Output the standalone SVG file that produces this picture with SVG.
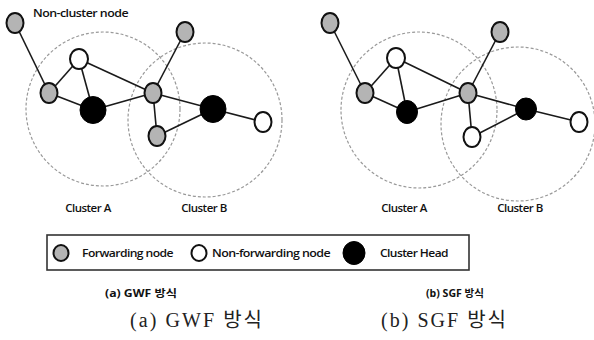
<svg xmlns="http://www.w3.org/2000/svg" width="594" height="340" viewBox="0 0 594 340">
<style>
.cl{fill:none;stroke:#999;stroke-width:1.2;stroke-dasharray:3 2}
.e{stroke:#1a1a1a;stroke-width:1.6;fill:none}
.g{fill:#b4b4b4;stroke:#111;stroke-width:2}
.w{fill:#fff;stroke:#111;stroke-width:2}
.b{fill:#000;stroke:#000;stroke-width:1}
.t{font-family:"Open Sans","Liberation Sans",sans-serif;font-weight:600;fill:#111;letter-spacing:-0.5px}
.s{font-family:"Open Sans","Noto Sans CJK KR",sans-serif;font-weight:700;fill:#111;font-size:10px}
.L{font-family:"Liberation Serif","Noto Sans CJK KR",serif;fill:#222;font-size:20px}
</style>
<rect width="594" height="340" fill="#fff"/>

<g id="clusters">
<circle class="cl" cx="103" cy="109" r="77"/>
<circle class="cl" cx="205" cy="120" r="77"/>
<circle class="cl" cx="419" cy="110" r="78"/>
<circle class="cl" cx="518" cy="124" r="77"/>
</g>

<g id="connectors">
<line class="e" x1="15" y1="23" x2="49" y2="93"/>
<line class="e" x1="49" y1="93" x2="79" y2="59"/>
<line class="e" x1="49" y1="93" x2="93" y2="110"/>
<line class="e" x1="79" y1="59" x2="93" y2="110"/>
<line class="e" x1="79" y1="59" x2="153" y2="93"/>
<line class="e" x1="93" y1="110" x2="153" y2="93"/>
<line class="e" x1="185" y1="32" x2="153" y2="93"/>
<line class="e" x1="153" y1="93" x2="213" y2="109"/>
<line class="e" x1="153" y1="93" x2="157" y2="136"/>
<line class="e" x1="157" y1="136" x2="213" y2="109"/>
<line class="e" x1="213" y1="109" x2="263" y2="122"/>

<line class="e" x1="330" y1="23" x2="365" y2="93"/>
<line class="e" x1="365" y1="93" x2="396" y2="58"/>
<line class="e" x1="365" y1="93" x2="407" y2="112"/>
<line class="e" x1="396" y1="58" x2="407" y2="112"/>
<line class="e" x1="396" y1="58" x2="468" y2="93"/>
<line class="e" x1="407" y1="112" x2="468" y2="93"/>
<line class="e" x1="500" y1="32" x2="468" y2="93"/>
<line class="e" x1="468" y1="93" x2="526" y2="109"/>
<line class="e" x1="468" y1="93" x2="472" y2="137"/>
<line class="e" x1="472" y1="137" x2="526" y2="109"/>
<line class="e" x1="526" y1="109" x2="579" y2="122"/>
</g>

<g id="a-noncluster"><ellipse class="g" cx="15" cy="23" rx="8.5" ry="10"/></g>
<g id="a-top"><ellipse class="w" cx="79" cy="59" rx="9" ry="10"/></g>
<g id="a-left"><ellipse class="g" cx="49" cy="93" rx="8.5" ry="10"/></g>
<g id="a-headA"><ellipse class="b" cx="93" cy="110" rx="13" ry="13.5"/></g>
<g id="a-mid"><ellipse class="g" cx="153" cy="93" rx="8.5" ry="10"/></g>
<g id="a-topright"><ellipse class="g" cx="185" cy="32" rx="8.5" ry="10"/></g>
<g id="a-bottom"><ellipse class="g" cx="157" cy="136" rx="8.5" ry="10"/></g>
<g id="a-headB"><ellipse class="b" cx="213" cy="109" rx="13" ry="13.5"/></g>
<g id="a-right"><ellipse class="w" cx="263" cy="122" rx="8.5" ry="10"/></g>

<g id="b-noncluster"><ellipse class="g" cx="330" cy="23" rx="8.5" ry="10"/></g>
<g id="b-top"><ellipse class="w" cx="396" cy="58" rx="9" ry="10"/></g>
<g id="b-left"><ellipse class="g" cx="365" cy="93" rx="8.5" ry="10"/></g>
<g id="b-headA"><ellipse class="b" cx="407" cy="112" rx="10.5" ry="11.5"/></g>
<g id="b-mid"><ellipse class="g" cx="468" cy="93" rx="8.5" ry="10"/></g>
<g id="b-topright"><ellipse class="g" cx="500" cy="32" rx="8.5" ry="10"/></g>
<g id="b-bottom"><ellipse class="w" cx="472" cy="137" rx="8.5" ry="10"/></g>
<g id="b-headB"><ellipse class="b" cx="526" cy="109" rx="10.5" ry="11"/></g>
<g id="b-right"><ellipse class="w" cx="579" cy="122" rx="8.5" ry="10"/></g>

<g id="labels">
<text class="t" x="33" y="17" font-size="11.5" textLength="95" lengthAdjust="spacingAndGlyphs">Non-cluster node</text>
<text class="t" x="88" y="212" font-size="11.5" text-anchor="middle">Cluster A</text>
<text class="t" x="204" y="212" font-size="11.5" text-anchor="middle">Cluster B</text>
<text class="t" x="404" y="212" font-size="11.5" text-anchor="middle">Cluster A</text>
<text class="t" x="520" y="212" font-size="11.5" text-anchor="middle">Cluster B</text>
</g>

<g id="legend">
<rect x="47" y="235" width="422" height="35" fill="#fff" stroke="#333" stroke-width="1.6"/>
<ellipse class="g" cx="61" cy="253" rx="7.5" ry="8"/>
<text class="t" x="82" y="256.5" font-size="10.5" textLength="91" lengthAdjust="spacingAndGlyphs">Forwarding node</text>
<ellipse class="w" cx="199" cy="253" rx="7.5" ry="8"/>
<text class="t" x="212" y="256.5" font-size="10.5" textLength="118" lengthAdjust="spacingAndGlyphs">Non-forwarding node</text>
<ellipse class="b" cx="354" cy="253" rx="11" ry="11.5"/>
<text class="t" x="380" y="256.5" font-size="10.5" textLength="68" lengthAdjust="spacingAndGlyphs">Cluster Head</text>
</g>

<g id="captions">
<text class="s" x="105" y="297" textLength="72" lengthAdjust="spacingAndGlyphs">(a) GWF 방식</text>
<text class="s" x="426" y="297" textLength="58" lengthAdjust="spacingAndGlyphs">(b) SGF 방식</text>
<text class="L" x="130" y="327" textLength="132" lengthAdjust="spacing">(a) GWF 방식</text>
<text class="L" x="381" y="327" textLength="125" lengthAdjust="spacing">(b) SGF 방식</text>
</g>
</svg>
